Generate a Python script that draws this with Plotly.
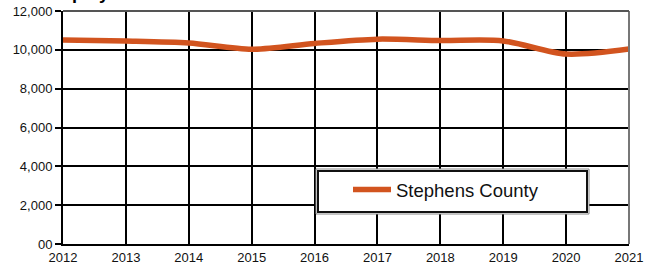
import plotly.graph_objects as go

years = [2012, 2013, 2014, 2015, 2016, 2017, 2018, 2019, 2020, 2021]
values = [10500, 10450, 10350, 10030, 10330, 10550, 10480, 10460, 9780, 10040]
series_name = "Stephens County"
y_tickvals = [0, 2000, 4000, 6000, 8000, 10000, 12000]
y_ticktext = ["00", "2,000", "4,000", "6,000", "8,000", "10,000", "12,000"]
title_text = "Employment"

fig = go.Figure()
fig.add_trace(go.Scatter(
    x=years, y=values, mode="lines", name=series_name,
    line=dict(color="#D2541F", width=5.5, shape="spline", smoothing=0.8),
))

fig.update_layout(
    width=650, height=269,
    margin=dict(l=63, r=21, t=11, b=25, autoexpand=False),
    paper_bgcolor="white", plot_bgcolor="white",
    font=dict(family="Liberation Sans, Arial, sans-serif", size=13, color="#111"),
    showlegend=True,
    legend=dict(x=(348-63)/566, y=(244-190)/233, xanchor="left", yanchor="middle",
                bgcolor="rgba(0,0,0,0)", borderwidth=0, itemwidth=38,
                font=dict(size=18.5, color="#111")),
    xaxis=dict(range=[2012, 2021], tickvals=years, showgrid=True,
               gridcolor="#000", gridwidth=2, zeroline=False, automargin=False,
               showline=True, linecolor="#000", linewidth=2, mirror=False,
               ticks="", tickfont=dict(size=13)),
    yaxis=dict(range=[0, 12000], tickvals=y_tickvals, ticktext=y_ticktext,
               showgrid=True, gridcolor="#000", gridwidth=2, zeroline=False,
               automargin=False,
               showline=True, linecolor="#000", linewidth=2,
               ticks="outside", ticklen=6, tickwidth=2, tickcolor="#000",
               tickfont=dict(size=13)),
    annotations=[
        dict(text="<b>" + title_text + "</b>", xref="paper", yref="paper",
             x=(42-63)/566, y=1, xanchor="left", yanchor="bottom", yshift=6,
             showarrow=False, font=dict(size=18, color="#000")),
    ],
    shapes=[
        dict(type="line", xref="paper", yref="paper", x0=1, x1=1, y0=0, y1=1,
             line=dict(color="#777", width=2), layer="above"),
        dict(type="line", xref="paper", yref="paper", x0=0, x1=1, y0=1, y1=1,
             line=dict(color="#555", width=2), layer="above"),
        dict(type="rect", xref="paper", yref="paper",
             x0=(316-63)/566, x1=(589-63)/566, y0=(244-214)/233, y1=(244-169)/233,
             fillcolor="white", line=dict(color="#888", width=1), layer="above"),
        dict(type="rect", xref="paper", yref="paper",
             x0=(318-63)/566, x1=(587-63)/566, y0=(244-212)/233, y1=(244-171)/233,
             fillcolor="white", line=dict(color="#111", width=2), layer="above"),
    ],
)

fig.write_html("out.html", config={"displayModeBar": False},
               post_script="document.body.style.margin='0';document.body.style.overflow='hidden';")
